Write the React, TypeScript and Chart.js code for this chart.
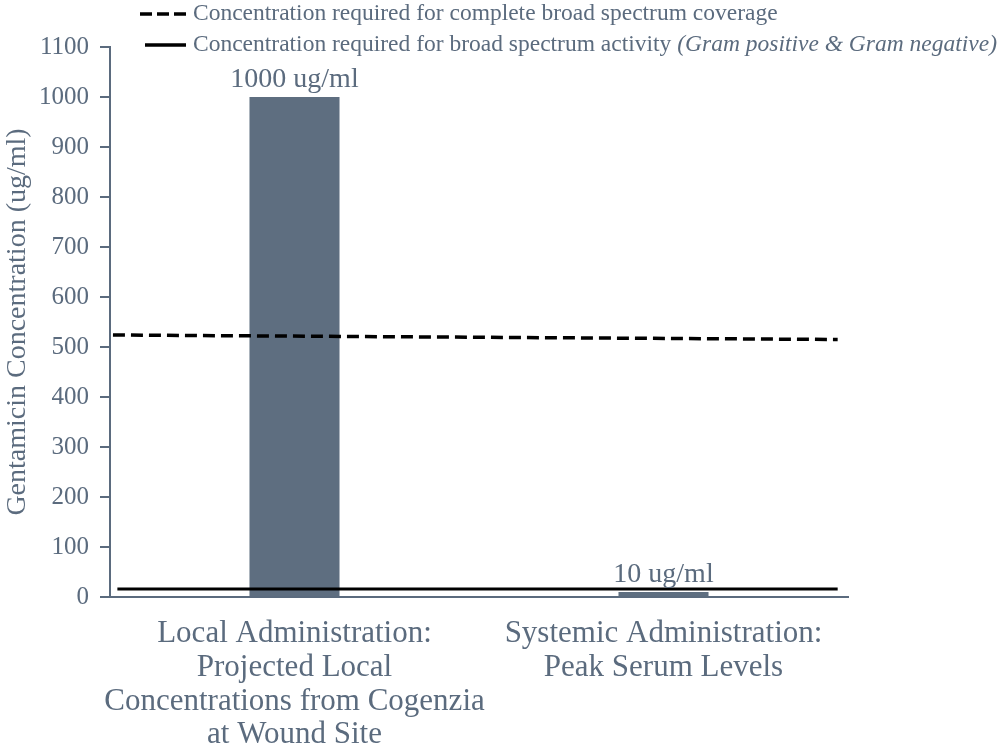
import React, { useEffect, useRef } from "react";
import { Chart, registerables } from "chart.js";

Chart.register(...registerables);

const categories: string[][] = [
  ["Local Administration:", "Projected Local", "Concentrations from Cogenzia", "at Wound Site"],
  ["Systemic Administration:", "Peak Serum Levels"],
];
const concentrations = [1000, 10];
const barLabels = ["1000 ug/ml", "10 ug/ml"];

// reference lines: position across the plot (0..1) and value
const coverageX = [0.004, 0.986];
const coverageY = [524, 515];
const activityX = [0.01, 0.986];
const activityY = [16, 16];

const yMin = 0;
const yMax = 1100;
const yStep = 100;

const legendItems = [
  { dashed: true, text: "Concentration required for complete broad spectrum coverage", italic: "" },
  { dashed: false, text: "Concentration required for broad spectrum activity ", italic: "(Gram positive & Gram negative)" },
];

const FONT = "'Liberation Serif', 'Times New Roman', serif";
const TEXT = "#5b6b7e";
const BAR = "#5e6e80";

const overlayPlugin = {
  id: "overlay",
  afterDatasetsDraw(chart: any) {
    const ctx = chart.ctx;
    const meta = chart.getDatasetMeta(0);
    ctx.save();
    ctx.fillStyle = TEXT;
    ctx.font = `28px ${FONT}`;
    ctx.textAlign = "center";
    ctx.textBaseline = "alphabetic";
    meta.data.forEach((bar: any, i: number) => {
      ctx.fillText(barLabels[i], bar.x, bar.y - 10);
    });
    ctx.restore();
  },
  afterDraw(chart: any) {
    const ctx = chart.ctx;
    ctx.save();
    legendItems.forEach((item, i) => {
      const y = 14 + i * 31;
      ctx.strokeStyle = "#000";
      ctx.lineWidth = 3.5;
      ctx.setLineDash(item.dashed ? [12, 5] : []);
      ctx.beginPath();
      ctx.moveTo(item.dashed ? 140 : 145, y);
      ctx.lineTo(186, y);
      ctx.stroke();
      ctx.setLineDash([]);
      ctx.fillStyle = TEXT;
      ctx.textAlign = "left";
      ctx.textBaseline = "middle";
      ctx.font = `23.5px ${FONT}`;
      ctx.fillText(item.text, 193, y);
      if (item.italic) {
        const w = ctx.measureText(item.text).width;
        ctx.font = `italic 23.5px ${FONT}`;
        ctx.fillText(item.italic, 193 + w, y);
      }
    });
    ctx.restore();
  },
};

export default function App() {
  const ref = useRef<HTMLCanvasElement | null>(null);
  useEffect(() => {
    if (!ref.current) return;
    const chart = new Chart(ref.current, {
      type: "bar",
      data: {
        labels: categories,
        datasets: [
          {
            type: "bar",
            data: concentrations,
            backgroundColor: BAR,
            barPercentage: 0.244,
            categoryPercentage: 1,
            grouped: false,
            order: 2,
          } as any,
          {
            type: "line",
            xAxisID: "x2",
            data: coverageX.map((x, i) => ({ x, y: coverageY[i] })),
            borderColor: "#000",
            borderWidth: 3.5,
            borderDash: [12, 6],
            pointRadius: 0,
            fill: false,
            order: 1,
          } as any,
          {
            type: "line",
            xAxisID: "x2",
            data: activityX.map((x, i) => ({ x, y: activityY[i] })),
            borderColor: "#000",
            borderWidth: 3,
            pointRadius: 0,
            fill: false,
            order: 1,
          } as any,
        ],
      },
      options: {
        animation: false,
        responsive: false,
        maintainAspectRatio: false,
        layout: { padding: { left: 0, top: 47, right: 152, bottom: 0 } },
        plugins: { legend: { display: false }, tooltip: { enabled: false } },
        scales: {
          x: {
            type: "category",
            grid: { display: false, drawTicks: false },
            border: { display: true, color: TEXT, width: 2 },
            ticks: {
              color: TEXT,
              font: { family: FONT, size: 31, lineHeight: 1.09 },
              padding: 20,
              maxRotation: 0,
              autoSkip: false,
            },
            afterFit: (s: any) => {
              s.height = 154;
            },
          },
          x2: {
            type: "linear",
            min: 0,
            max: 1,
            offset: false,
            display: false,
          },
          y: {
            min: yMin,
            max: yMax,
            ticks: {
              stepSize: yStep,
              color: TEXT,
              font: { family: FONT, size: 25 },
              padding: 11,
              callback: (v: any) => String(v),
            },
            grid: { display: true, drawOnChartArea: false, tickLength: 10, color: TEXT, lineWidth: 2 },
            border: { display: true, color: TEXT, width: 2 },
            title: {
              display: true,
              text: "Gentamicin Concentration (ug/ml)",
              color: TEXT,
              font: { family: FONT, size: 28 },
              padding: { top: 1, bottom: 0 },
            },
            afterFit: (s: any) => {
              s.width = 110;
            },
          },
        },
      },
      plugins: [overlayPlugin],
    } as any);
    return () => chart.destroy();
  }, []);
  return (
    <div style={{ position: "fixed", left: 0, top: 0, width: 1000, height: 751, background: "#fff" }}>
      <canvas ref={ref} width={1000} height={751} style={{ display: "block" }} />
    </div>
  );
}
